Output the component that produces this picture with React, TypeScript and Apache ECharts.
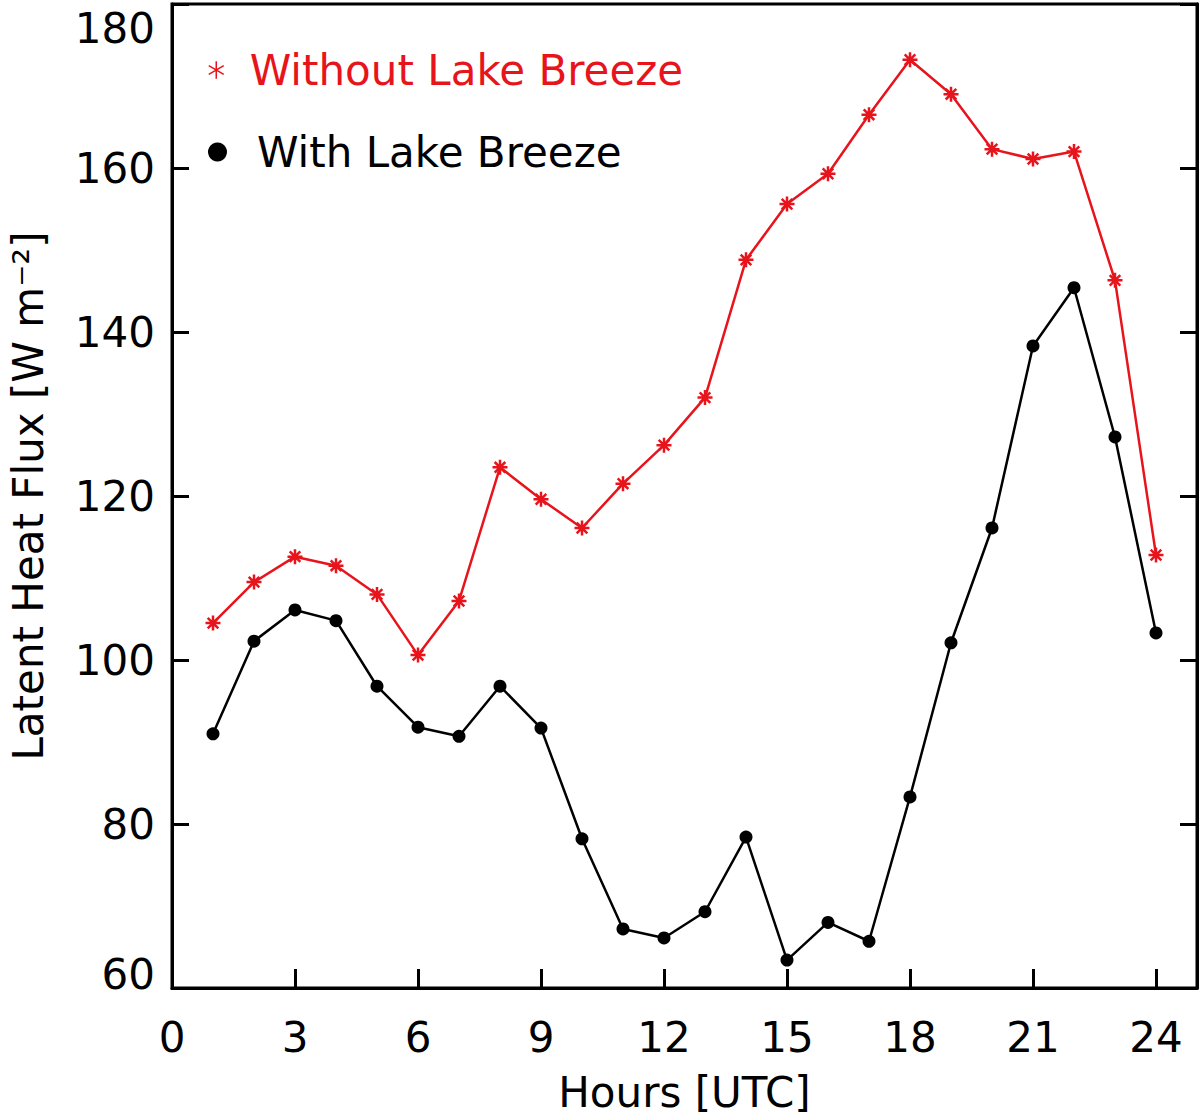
import React, { useEffect, useRef } from "react";
import * as echarts from "echarts";

const hours = [1, 2, 3, 4, 5, 6, 7, 8, 9, 10, 11, 12, 13, 14, 15, 16, 17, 18, 19, 20, 21, 22, 23, 24];
const withoutLakeBreeze = [104.5, 109.5, 112.6, 111.5, 108.0, 100.6, 107.2, 123.5, 119.6, 116.1, 121.5, 126.2, 132.0, 148.8, 155.6, 159.3, 166.5, 173.2, 169.0, 162.3, 161.1, 162.0, 146.3, 112.8];
const withLakeBreeze = [91.0, 102.3, 106.1, 104.8, 96.8, 91.8, 90.7, 96.8, 91.7, 78.2, 67.2, 66.1, 69.3, 78.4, 63.4, 68.0, 65.7, 83.3, 102.1, 116.1, 138.3, 145.4, 127.2, 103.3];

const FONT = "DejaVu Sans";
const STAR8 = "path://M0,-10L0,10M-10,0L10,0M-7.07,-7.07L7.07,7.07M-7.07,7.07L7.07,-7.07";
const STAR6 = "path://M0,-10L0,10M-8.66,-5L8.66,5M-8.66,5L8.66,-5";

export default function App() {
  const ref = useRef<HTMLDivElement>(null);
  useEffect(() => {
    if (!ref.current) return;
    const chart = echarts.init(ref.current, null, { renderer: "svg" });
    const axisLine = { show: true, lineStyle: { color: "#000", width: 3 } };
    const labelFont = { fontFamily: FONT, fontSize: 42, color: "#000" };
    chart.setOption({
      animation: false,
      backgroundColor: "#fff",
      grid: { left: 172, top: 4, right: 3, bottom: 131, show: true, borderColor: "#000", borderWidth: 3, containLabel: false, outerBoundsMode: "none" },
      legend: [
        {
          data: [{ name: "Without Lake Breeze", icon: STAR6, textStyle: { color: "#e8141c" } }],
          left: 203,
          top: 43,
          itemWidth: 15,
          itemHeight: 18,
          itemStyle: { color: "#e8141c", borderColor: "#e8141c", borderWidth: 1.5 },
          textStyle: { fontFamily: FONT, fontSize: 42, lineHeight: 44, padding: [0, 0, 0, 21] },
          selectedMode: false,
        },
        {
          data: [{ name: "With Lake Breeze", icon: "circle", textStyle: { color: "#000" } }],
          left: 203,
          top: 125,
          itemWidth: 19,
          itemHeight: 19,
          itemStyle: { color: "#000", borderWidth: 0 },
          textStyle: { fontFamily: FONT, fontSize: 42, lineHeight: 44, padding: [0, 0, 0, 25] },
          selectedMode: false,
        },
      ],
      xAxis: {
        type: "value",
        min: 0,
        max: 25,
        interval: 3,
        name: "Hours [UTC]",
        nameLocation: "middle",
        nameGap: 83,
        nameTextStyle: { fontFamily: FONT, fontSize: 42, color: "#000" },
        axisLine,
        axisTick: { show: true, inside: true, length: 19, lineStyle: { color: "#000", width: 3 } },
        axisLabel: { ...labelFont, margin: 28, showMaxLabel: false, formatter: (v: number) => (v === 25 ? "" : String(v)) },
        splitLine: { show: false },
      },
      yAxis: [
        {
          type: "value",
          min: 60,
          max: 180,
          interval: 20,
          name: "Latent Heat Flux [W m⁻²]",
          nameLocation: "middle",
          nameGap: 123,
          nameTextStyle: { fontFamily: FONT, fontSize: 42, color: "#000" },
          axisLine,
          axisTick: { show: true, inside: true, length: 17, lineStyle: { color: "#000", width: 3 } },
          axisLabel: {
            ...labelFont,
            margin: 17,
            verticalAlignMaxLabel: "top",
            verticalAlignMinLabel: "bottom",
            formatter: (v: number) => (v === 180 ? "{hi|180}" : v === 60 ? "{lo|60}" : String(v)),
            rich: {
              hi: { ...labelFont, lineHeight: 48 },
              lo: { ...labelFont, lineHeight: 28 },
            },
          },
          splitLine: { show: false },
        },
        {
          type: "value",
          min: 60,
          max: 180,
          interval: 20,
          position: "right",
          axisLine,
          axisTick: { show: true, inside: true, length: 17, lineStyle: { color: "#000", width: 3 } },
          axisLabel: { show: false },
          splitLine: { show: false },
        },
      ],
      series: [
        {
          name: "Without Lake Breeze",
          type: "line",
          data: hours.map((h, i) => [h, withoutLakeBreeze[i]]),
          symbol: STAR8,
          symbolSize: 15,
          lineStyle: { color: "#e8141c", width: 2.5 },
          itemStyle: { color: "#e8141c", borderColor: "#e8141c", borderWidth: 2.5 },
          z: 3,
        },
        {
          name: "With Lake Breeze",
          type: "line",
          data: hours.map((h, i) => [h, withLakeBreeze[i]]),
          symbol: "circle",
          symbolSize: 13,
          lineStyle: { color: "#000", width: 2.5 },
          itemStyle: { color: "#000", borderWidth: 0 },
          z: 2,
        },
      ],
    });
    return () => chart.dispose();
  }, []);
  return <div ref={ref} style={{ position: "absolute", left: 0, top: 0, width: 1200, height: 1119 }} />;
}
